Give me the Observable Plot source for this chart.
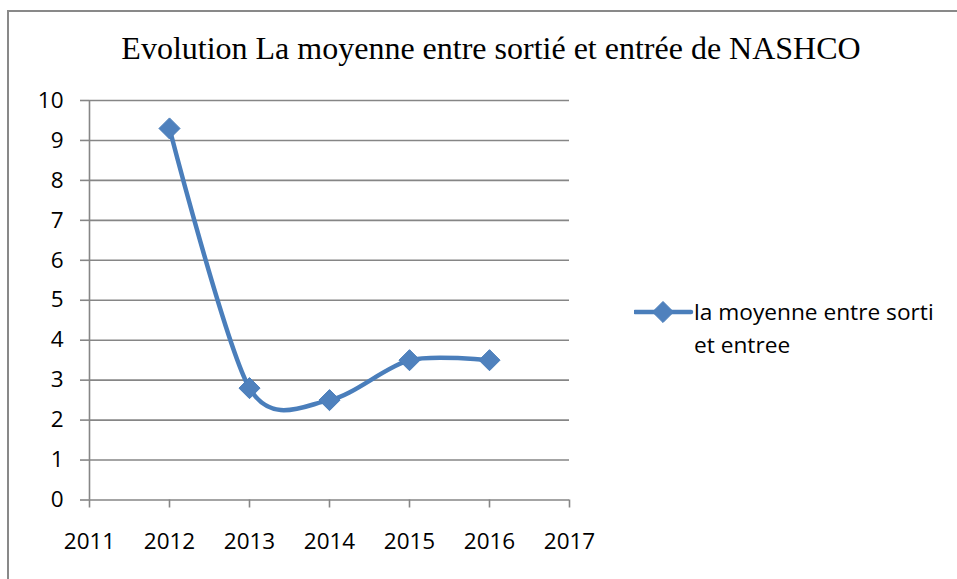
<!DOCTYPE html>
<html>
<head>
<meta charset="utf-8">
<script src="https://cdn.jsdelivr.net/npm/d3@7"></script>
<script src="https://cdn.jsdelivr.net/npm/@observablehq/plot@0.6"></script>
<style>
  html, body { margin: 0; padding: 0; background: #fff; }
  #wrap { position: relative; width: 957px; height: 579px; overflow: hidden; }
  #frame { position: absolute; left: 7px; top: 10px; right: -10px; bottom: -10px;
           border-left: 2px solid #898989; border-top: 2px solid #898989; }
  #title { position: absolute; left: 0; width: 982px; top: 30px; text-align: center;
           font-family: "Liberation Serif", "Times New Roman", serif; font-size: 32px; color: #000; white-space: nowrap; }
  #chart { position: absolute; left: 0; top: 0; }
  #legend { position: absolute; left: 634px; top: 295px; font-family: "Open Sans", sans-serif;
            font-size: 22.7px; line-height: 33px; color: #000; }
  #legend .row { display: flex; align-items: flex-start; }
  #legend svg { flex: none; margin-top: 0px; }
</style>
</head>
<body>
<div id="wrap">
  <div id="frame"></div>
  <div id="title"></div>
  <div id="chart"></div>
  <div id="legend"></div>
</div>
<script>
const titleText = "Evolution La moyenne entre sortié et entrée de NASHCO";
const seriesName = "la moyenne entre sorti et entree";
const years = [2012, 2013, 2014, 2015, 2016];
const values = [9.3, 2.8, 2.5, 3.5, 3.5];
const xTicks = [2011, 2012, 2013, 2014, 2015, 2016, 2017];
const yTicks = [0, 1, 2, 3, 4, 5, 6, 7, 8, 9, 10];

const blue = "#4A7EBB";
const grey = "#868686";
const data = years.map((y, i) => ({year: y, value: values[i]}));

document.getElementById("title").textContent = titleText;

const chart = Plot.plot({
  width: 957,
  height: 579,
  marginLeft: 89,
  marginRight: 388,
  marginTop: 100,
  marginBottom: 79.5,
  style: {fontFamily: "'Open Sans', sans-serif", fontSize: "22.5px", color: "#000", background: "transparent", overflow: "visible"},
  x: {domain: [2011, 2017], ticks: xTicks, tickFormat: d => String(d)},
  y: {domain: [0, 10], ticks: yTicks},
  marks: [
    Plot.gridY(yTicks, {stroke: grey, strokeOpacity: 1, strokeWidth: 1.6}),
    Plot.ruleX([2011], {y1: 0, y2: 10, stroke: grey, strokeWidth: 1.6}),
    Plot.axisY(yTicks, {tickSize: 9, tickPadding: 17, stroke: grey, strokeWidth: 1.6, fill: "#000", fontSize: 22.5, label: null}),
    Plot.axisX(xTicks, {tickSize: 8, tickPadding: 25, stroke: grey, strokeWidth: 1.6, fill: "#000", fontSize: 22.5, label: null, tickFormat: d => String(d)}),
    Plot.line(data, {x: "year", y: "value", curve: "cardinal", tension: 0.15, stroke: blue, strokeWidth: 4.5}),
    Plot.dot(data, {x: "year", y: "value", symbol: "diamond2", r: 9.5, fill: "#4F81BD", stroke: blue, strokeWidth: 1})
  ]
});
document.getElementById("chart").appendChild(chart);

// legend
const legend = document.getElementById("legend");
const words = seriesName.split(" ");
const row = document.createElement("div");
row.className = "row";
const sw = d3.create("svg").attr("width", 60).attr("height", 33);
sw.append("line").attr("x1", 1).attr("x2", 57).attr("y1", 17).attr("y2", 17)
  .attr("stroke", blue).attr("stroke-width", 4.5).attr("stroke-linecap", "round");
sw.append("path").attr("d", d3.symbol(d3.symbolDiamond2, 9.5 * 9.5 * Math.PI)())
  .attr("transform", "translate(29,17)").attr("fill", "#4F81BD").attr("stroke", blue);
row.appendChild(sw.node());
const txt = document.createElement("div");
txt.innerHTML = words.slice(0, 4).join(" ") + "<br>" + words.slice(4).join(" ");
row.appendChild(txt);
legend.appendChild(row);
</script>
</body>
</html>
